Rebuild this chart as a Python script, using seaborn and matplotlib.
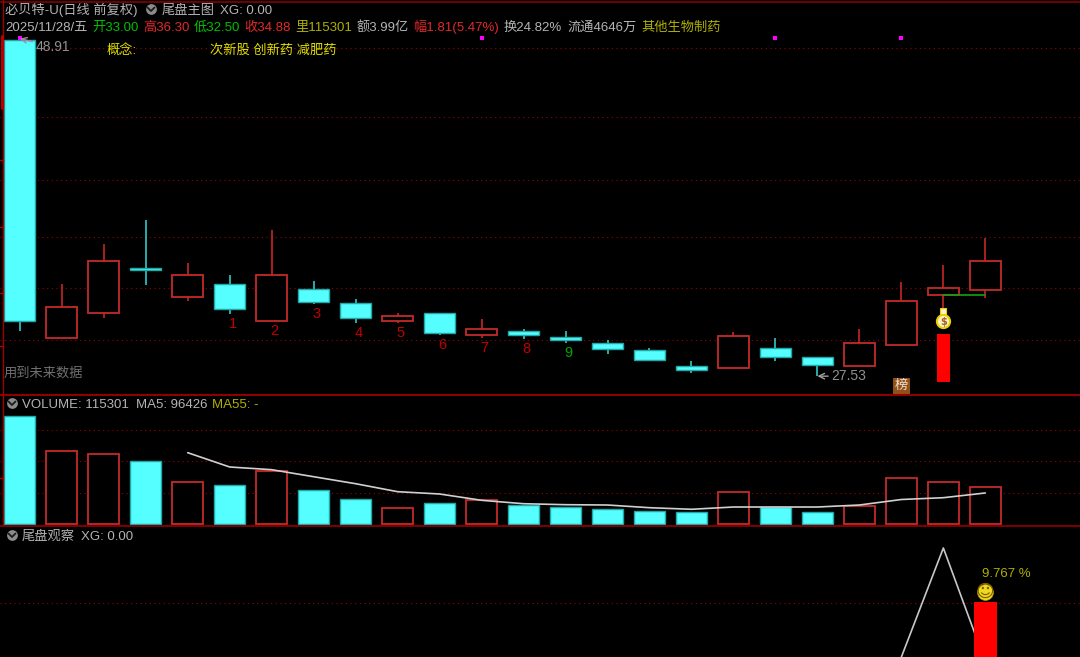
import numpy as np
import pandas as pd
import matplotlib
matplotlib.use("Agg")
import matplotlib.pyplot as plt
import seaborn as sns

W, H = 1080, 657
sns.set_theme(style="dark", rc={"figure.facecolor": "black", "axes.facecolor": "black"})
plt.rcParams['font.family'] = ['Liberation Sans', 'Noto Sans CJK SC', 'DejaVu Sans']

opens  = [48.91,29.93,31.52,34.41,32.54,33.37,31.07,33.07,32.18,31.07,31.52,30.18,30.40,30.01,29.67,29.17,28.17,28.08,29.31,28.74,28.15,29.49,32.67,33.00]
closes = [31.07,31.91,34.84,34.26,33.95,31.78,33.95,32.22,31.22,31.33,30.25,30.50,30.12,29.80,29.24,28.55,27.91,30.06,28.72,28.21,29.63,32.31,33.13,34.88]
highs  = [48.91,33.37,35.92,37.44,34.71,33.95,36.81,33.56,32.41,31.52,31.52,31.14,30.50,30.38,29.80,29.29,28.47,30.31,29.93,28.78,30.50,33.52,34.58,36.30]
lows   = [30.38,29.93,31.20,33.30,32.29,31.46,31.07,32.09,30.94,30.89,30.12,29.93,29.87,29.61,28.97,28.47,27.72,28.08,28.47,27.53,28.15,29.49,31.78,32.50]
volumes = [339600,230000,219600,196500,132000,120700,166800,105800,78300,48300,64800,74200,57500,53100,46800,40400,36300,98600,52100,36300,56200,142800,130200,115301]
ma5 = [np.nan]*4 + [223700,178500,170000,147800,125700,100500,93200,73300,62500,59400,58400,49900,44900,52100,52100,52100,58400,75800,81500,96426]
tail_line = [np.nan]*21 + [4.3,15.2,3.8]
tail_bar_value = 9.767
price_grid = [48.40,44.03,40.03,36.36,33.15,29.83]
vol_grid = [296300,197400,96350]
tail_grid = [9.7]
magenta_days = [0,11,18,21]
mark_days = [5,6,7,8,9,10,11,12,13]
mark_labels = ["1","2","3","4","5","6","7","8","9"]
signal_top, signal_bottom = 30.23, 27.19
days = np.arange(len(opens))

fig = plt.figure(figsize=(W/100, H/100), dpi=100, facecolor="black")
def panel(y0, y1):
    return fig.add_axes([0, 1-y1/H, 1, (y1-y0)/H], facecolor="black")
ax1 = panel(0, 394.5)
ax2 = panel(394.5, 525)
ax3 = panel(525, 657)
xlim = (-19.8/41.98, (W-19.8)/41.98)

CY, CYE, RD = "#55ffff", "#1fa8a8", "#c42a2a"
DOT = dict(color="#980000", lw=0.8, linestyle=(0, (1, 3.2)), zorder=1)

# price panel
for v in price_grid:
    ax1.axhline(v, **DOT)
up = np.array(closes) >= np.array(opens)
o, c, h, l = map(np.array, (opens, closes, highs, lows))
ax1.vlines(days[up], l[up], h[up], color="#b82222", lw=1.3, zorder=2)
ax1.vlines(days[~up], l[~up], h[~up], color="#2fb8b8", lw=1.3, zorder=2)
ax1.bar(days[up], (c-o)[up], bottom=o[up], width=0.74, facecolor="black", edgecolor=RD, lw=1.3, zorder=3)
ax1.bar(days[~up], (o-c)[~up], bottom=c[~up], width=0.74, facecolor=CY, edgecolor=CYE, lw=1, zorder=3)
ax1.bar([22], [signal_top-signal_bottom], bottom=[signal_bottom], width=0.295, facecolor="#ff0000", edgecolor="none", lw=0, zorder=3)
ax1.plot([22, 23], [o[22], o[22]], color="#14a014", lw=1.2, zorder=4)
ax1.scatter(magenta_days, [49.05]*4, marker="s", s=6, color="#ff00ff", lw=0, zorder=5, clip_on=False)
for d, t in zip(mark_days, mark_labels):
    ax1.annotate(t, (d, l[d]), xytext=(3, -10), textcoords="offset pixels", ha="center", va="center",
                 fontsize=10.5, color="#00a800" if t == "9" else "#c00000", zorder=5)
ax1.annotate("27.53", (19, 27.53), xytext=(14, 0), textcoords="offset pixels", ha="left", va="center",
             fontsize=10, color="#909090", zorder=5,
             arrowprops=dict(arrowstyle="->", color="#a0a0a0", lw=1, shrinkA=0, shrinkB=0))
ax1.annotate("48.91", (0, 49.0), xytext=(16, -8), textcoords="offset pixels", ha="left", va="center",
             fontsize=10, color="#909090", zorder=5,
             arrowprops=dict(arrowstyle="->", color="#a08aa0", lw=1, shrinkA=0, shrinkB=0))
# money bag and rank badge
ax1.scatter([22], [31.02], s=90, color="#fff0c0", edgecolor="#e8d000", lw=1.5, zorder=5)
ax1.scatter([22], [31.65], s=16, marker="s", color="#fff0c0", edgecolor="#e8d000", lw=.8, zorder=5)
ax1.text(22, 31.0, "$", fontsize=7, color="#a06030", ha="center", va="center", family="DejaVu Sans", weight="bold", zorder=6)
ax1.text(21, 26.91, "榜", fontsize=9.5, color="#f0e0d0", ha="center", va="center", zorder=6,
         bbox=dict(boxstyle="square,pad=0.12", fc="#90501a", ec="none"))
ax1.set_ylim(48.91-354*0.06369, 48.91+40*0.06369)

# volume panel
for v in vol_grid:
    ax2.axhline(v, **DOT)
frame = pd.DataFrame({"day": days, "volume": volumes, "ma5": ma5, "up": up})
sns.barplot(data=frame[frame.up], x="day", y="volume", native_scale=True, width=0.74, color="black",
            edgecolor=RD, linewidth=1.3, saturation=1, ax=ax2, zorder=3, errorbar=None)
sns.barplot(data=frame[~frame.up], x="day", y="volume", native_scale=True, width=0.74, color=CY,
            edgecolor=CYE, linewidth=1, saturation=1, ax=ax2, zorder=3, errorbar=None)
sns.lineplot(data=frame.dropna(), x="day", y="ma5", color="#d0d0d0", lw=1.2, ax=ax2, zorder=4, errorbar=None)
ax2.set_ylim(-1.5*3159, 129*3159)

# tail panel
for v in tail_grid:
    ax3.axhline(v, **DOT)
tail = pd.DataFrame({"day": days, "v": tail_line})
sns.lineplot(data=tail.dropna(), x="day", y="v", color="#c8c8c8", lw=1.2, ax=ax3, zorder=2, errorbar=None)
ax3.bar([23], [tail_bar_value], width=0.55, facecolor="#ff0000", edgecolor="none", lw=0, zorder=3)
ax3.scatter([23], [10.8], s=130, color="#f0d820", edgecolor="#b89800", lw=.5, zorder=5)
ax3.text(23, 10.8, "☺", fontsize=13, color="#806000", ha="center", va="center", family="DejaVu Sans", zorder=6)
ax3.set_ylim((700-657)/10, (700-525)/10)

for ax in (ax1, ax2, ax3):
    ax.set_xlim(*xlim)
    ax.set_xlabel(""); ax.set_ylabel("")
    ax.set_xticks([]); ax.set_yticks([])
    ax.grid(False)
    for s in ax.spines.values():
        s.set_visible(False)

# overlay for frame, header texts and icons (pixel positions)
ov = fig.add_axes([0, 0, 1, 1], facecolor="none", zorder=10)
ov.set_xlim(0, W); ov.set_ylim(H, 0); ov.axis("off")
for yy, col in ((1.5, "#7a0000"), (394.5, "#a00000"), (525.5, "#8a0000")):
    ov.plot([0, W], [yy, yy], color=col, lw=1.3)
ov.plot([2.5, 2.5], [0, 525], color="#a00000", lw=1.0)
ov.plot([1.5, 1.5], [36, 108], color="#b80000", lw=2.2)
for yy in (160, 227, 293, 346, 478):
    ov.plot([0, 3], [yy, yy], color="#b00000", lw=1)

GR, GN, RE, OL, YE = "#b4b4b4", "#00c000", "#e02a2a", "#b0b000", "#e0e000"
def put(x, y, s, c=GR, fs=9.5):
    ov.text(x, y + 5, s, color=c, fontsize=fs, ha="left", va="baseline")
def icon(x, y):
    ov.scatter([x], [y], s=60, color="#8c8c8c", lw=0)
    ov.plot([x-3.5, x, x+3.5], [y-1.5, y+2, y-1.5], color="#1a1a1a", lw=1.3)

put(5, 9, "必贝特-U(日线 前复权)")
icon(151, 9)
put(162, 9, "尾盘主图")
put(220, 9, "XG: 0.00")
put(5, 26, "2025/11/28/五")
for x, s, col in [(92,"开33.00",GN),(143,"高36.30",RE),(194,"低32.50",GN),(244,"收34.88",RE),
                  (295,"里115301",OL),(357,"额3.99亿",GR),(413,"幅1.81(5.47%)",RE),
                  (504,"换24.82%",GR),(567,"流通4646万",GR),(641,"其他生物制药",OL)]:
    put(x, 26, s, col)
put(107, 49, "概念:", YE)
put(210, 49, "次新股 创新药 减肥药", YE)
put(4, 372, "用到未来数据", "#707070")
icon(12, 403)
put(22, 403, "VOLUME: 115301")
put(136, 403, "MA5: 96426")
put(212, 403, "MA55: -", OL)
icon(12, 535)
put(22, 535, "尾盘观察")
put(81, 535, "XG: 0.00")
put(982, 572, "9.767 %", OL)

fig.savefig("out.png", dpi=100, facecolor="black")
